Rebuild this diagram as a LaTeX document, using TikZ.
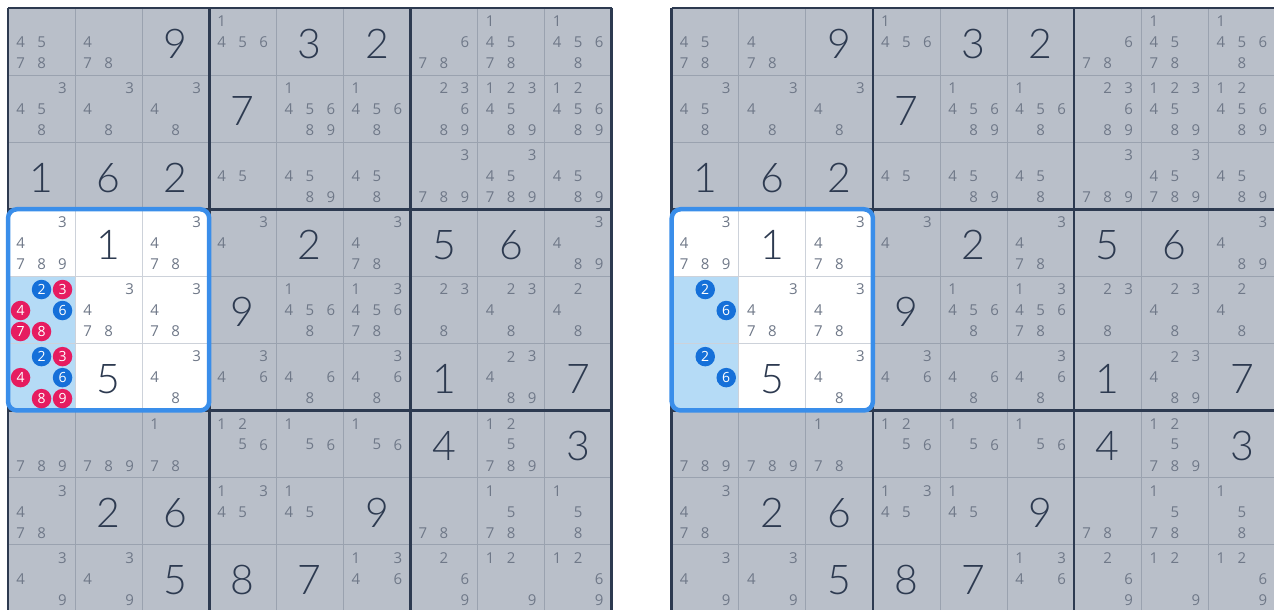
\documentclass[tikz,border=0pt]{standalone}
\usepackage{fontspec}
\setmainfont{Open Sans}
\newfontfamily\cifrafont{Lato Light}
\definecolor{fondoGriglia}{HTML}{B9BFC9}
\definecolor{lineaSottile}{HTML}{9AA2AF}
\definecolor{lineaChiara}{HTML}{CDD2DA}
\definecolor{lineaSpessa}{HTML}{2D3A50}
\definecolor{grigioCand}{HTML}{6F7888}
\definecolor{azzurroCol}{HTML}{B5DBF6}
\definecolor{bordoBlu}{HTML}{3A8EEA}
\definecolor{cerchioBlu}{HTML}{1570D9}
\definecolor{cerchioRosa}{HTML}{E61C60}

% Numeri dati e candidati, uguali nelle due griglie (riga/colonna/valori).
\newcommand{\cifredate}{1/3/9, 1/5/3, 1/6/2, 2/4/7, 3/1/1, 3/2/6, 3/3/2,
  4/2/1, 4/5/2, 4/7/5, 4/8/6, 5/4/9, 6/2/5, 6/7/1, 6/9/7,
  7/7/4, 7/9/3, 8/2/2, 8/3/6, 8/6/9, 9/3/5, 9/4/8, 9/5/7}
\newcommand{\candidati}{%
  1/1/{4,5,7,8}, 1/2/{4,7,8}, 1/4/{1,4,5,6}, 1/7/{6,7,8}, 1/8/{1,4,5,7,8}, 1/9/{1,4,5,6,8},
  2/1/{3,4,5,8}, 2/2/{3,4,8}, 2/3/{3,4,8}, 2/5/{1,4,5,6,8,9}, 2/6/{1,4,5,6,8},
  2/7/{2,3,6,8,9}, 2/8/{1,2,3,4,5,8,9}, 2/9/{1,2,4,5,6,8,9},
  3/4/{4,5}, 3/5/{4,5,8,9}, 3/6/{4,5,8}, 3/7/{3,7,8,9}, 3/8/{3,4,5,7,8,9}, 3/9/{4,5,8,9},
  4/1/{3,4,7,8,9}, 4/3/{3,4,7,8}, 4/4/{3,4}, 4/6/{3,4,7,8}, 4/9/{3,4,8,9},
  5/2/{3,4,7,8}, 5/3/{3,4,7,8}, 5/5/{1,4,5,6,8}, 5/6/{1,3,4,5,6,7,8}, 5/7/{2,3,8},
  5/8/{2,3,4,8}, 5/9/{2,4,8},
  6/3/{3,4,8}, 6/4/{3,4,6}, 6/5/{4,6,8}, 6/6/{3,4,6,8}, 6/8/{2,3,4,8,9},
  7/1/{7,8,9}, 7/2/{7,8,9}, 7/3/{1,7,8}, 7/4/{1,2,5,6}, 7/5/{1,5,6}, 7/6/{1,5,6},
  7/8/{1,2,5,7,8,9},
  8/1/{3,4,7,8}, 8/4/{1,3,4,5}, 8/5/{1,4,5}, 8/7/{7,8}, 8/8/{1,5,7,8}, 8/9/{1,5,8},
  9/1/{3,4,9}, 9/2/{3,4,9}, 9/6/{1,3,4,6}, 9/7/{2,6,9}, 9/8/{1,2,9}, 9/9/{1,2,6,9}}

\newcommand{\sudokugriglia}[1]{%
  % Sfondo, riquadro evidenziato e colonna azzurra.
  \fill[fondoGriglia] (0,0) rectangle (9,9);
  \fill[white] (0,3) rectangle (3,6);
  \fill[azzurroCol] (0,4) rectangle (1,6);
  \foreach \i in {1,...,8}{
    \draw[sottile] (\i,0) -- (\i,9);
    \draw[sottile] (0,\i) -- (9,\i);
  }
  \foreach \i in {1,2}{
    \draw[sottile,lineaChiara] (\i,3) -- (\i,6);
    \draw[sottile,lineaChiara] (0,\i+3) -- (3,\i+3);
  }
  \foreach \i in {0,3,6,9}{
    \draw[spessa] (\i,0) -- (\i,9);
    \draw[spessa] (0,\i) -- (9,\i);
  }
  \draw[evidenza] (0,3) rectangle (3,6);
  \foreach \r/\c/\d in \cifredate{
    \node[cifra] (#1-\r-\c) at (\c-0.5,\r-0.47) {\d};
  }
  \foreach \r/\c/\lista in \candidati{
    \foreach \d in \lista{
      \pgfmathtruncatemacro\cx{mod(\d-1,3)}
      \pgfmathtruncatemacro\cy{div(\d-1,3)}
      \node[candidato] (#1-\r-\c-\d) at ({\c-0.5+(\cx-1)*0.313},{\r-0.49+(\cy-1)*0.313}) {\d};
    }
  }%
}

\begin{document}
\begin{tikzpicture}[x=1pt,y=1pt,
  sottile/.style={draw=lineaSottile,line width=1pt},
  spessa/.style={draw=lineaSpessa,line width=2.6pt},
  evidenza/.style={draw=bordoBlu,line width=4.5pt,rounded corners=9pt},
  cifra/.style={font=\cifrafont\fontsize{41}{41}\selectfont,text=lineaSpessa,inner sep=0pt},
  candidato/.style={font=\fontsize{15}{15}\selectfont,text=grigioCand,inner sep=0pt},
  cerchio/.style={circle,inner sep=0pt,minimum size=19.5pt,text=white,
    font=\fontsize{14}{14}\selectfont}]
  \fill[white] (0,0) rectangle (1274,-610);
  \useasboundingbox (0,0) rectangle (1274,-610);
  % Griglia di sinistra: tutti i candidati della colonna evidenziata.
  \begin{scope}[shift={(8,-8)},x=67.08pt,y=-67.08pt]
    \sudokugriglia{L}
    \foreach \r/\d/\colore in {5/2/cerchioBlu, 5/3/cerchioRosa, 5/4/cerchioRosa,
      5/6/cerchioBlu, 5/7/cerchioRosa, 5/8/cerchioRosa, 6/2/cerchioBlu, 6/3/cerchioRosa,
      6/4/cerchioRosa, 6/6/cerchioBlu, 6/8/cerchioRosa, 6/9/cerchioRosa}{
      \pgfmathtruncatemacro\cx{mod(\d-1,3)}
      \pgfmathtruncatemacro\cy{div(\d-1,3)}
      \node[cerchio,fill=\colore] (L-\r-1-\d) at ({0.5+(\cx-1)*0.313},{\r-0.49+(\cy-1)*0.313}) {\d};
    }
  \end{scope}
  % Griglia di destra: restano solo 2 e 6.
  \begin{scope}[shift={(671.7,-8)},x=67.08pt,y=-67.08pt]
    \sudokugriglia{R}
    \foreach \r/\d in {5/2, 5/6, 6/2, 6/6}{
      \pgfmathtruncatemacro\cx{mod(\d-1,3)}
      \pgfmathtruncatemacro\cy{div(\d-1,3)}
      \node[cerchio,fill=cerchioBlu] (R-\r-1-\d) at ({0.5+(\cx-1)*0.313},{\r-0.49+(\cy-1)*0.313}) {\d};
    }
  \end{scope}
\end{tikzpicture}
\end{document}
